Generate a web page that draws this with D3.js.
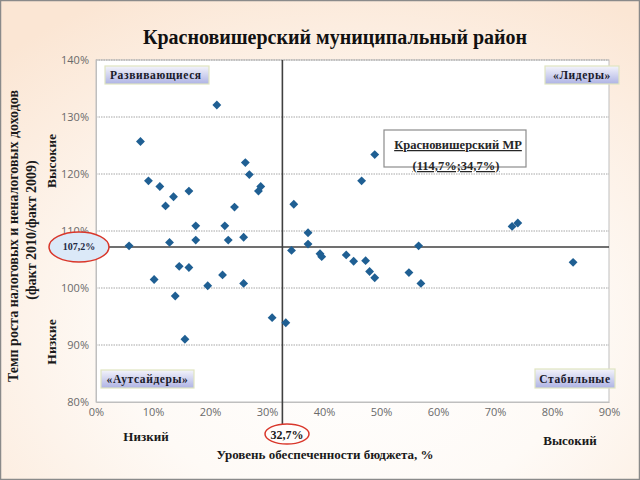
<!DOCTYPE html>
<html>
<head>
<meta charset="utf-8">
<script src="https://cdn.jsdelivr.net/npm/d3@7"></script>
<style>
  html, body { margin: 0; padding: 0; }
  body { width: 640px; height: 480px; overflow: hidden; }
</style>
</head>
<body>
<svg id="chart" width="640" height="480"></svg>
<script>
// ---- data ----
const titleText = "Красновишерский муниципальный район";
const xTicks = [0, 10, 20, 30, 40, 50, 60, 70, 80, 90];
const yTicks = [80, 90, 100, 110, 120, 130, 140];
// Уровень обеспеченности бюджета, %
const provision = [21.2, 7.8, 9.2, 11.2, 12.2, 13.6, 16.3, 26.2, 26.9, 28.9, 28.5, 24.3,
  17.5, 22.6, 34.7, 37.2, 5.8, 12.9, 17.5, 23.2, 25.9, 37.2, 34.3, 39.3, 39.6,
  14.6, 16.3, 10.2, 22.2, 25.9, 19.6, 13.9, 30.9, 33.3, 15.6,
  56.6, 43.9, 45.2, 47.3, 48.0, 48.9, 54.9, 57.0, 83.7, 48.9, 46.6, 73.0, 74.0];
// Темп роста налоговых и неналоговых доходов, %
const growth = [132.1, 125.7, 118.8, 117.8, 114.4, 116.0, 117.0, 122.0, 119.9, 117.8, 117.0, 114.2,
  110.9, 110.9, 114.7, 109.7, 107.4, 108.0, 108.4, 108.4, 108.9, 107.7, 106.6, 106.0, 105.5,
  103.8, 103.6, 101.5, 102.3, 100.8, 100.4, 98.6, 94.8, 93.9, 91.0,
  107.4, 105.8, 104.7, 104.8, 102.9, 101.8, 102.7, 100.8, 104.5, 123.4, 118.8, 110.8, 111.4];
const avgProvision = 32.7;
const avgGrowth = 107.2;
const quadrantLabels = ["Развивающиеся", "«Лидеры»", "«Аутсайдеры»", "Стабильные"];

const svg = d3.select("#chart");
const W = 640, H = 480;
const serif = "'Liberation Serif', 'Times New Roman', serif";
const sans = "'Open Sans', 'Liberation Sans', sans-serif";

// ---- background ----
const defs = svg.append("defs");
const bg = defs.append("radialGradient").attr("id", "bg").attr("cx", "55%").attr("cy", "70%").attr("r", "80%");
bg.append("stop").attr("offset", "0%").attr("stop-color", "#ffffff");
bg.append("stop").attr("offset", "45%").attr("stop-color", "#fefaf6");
bg.append("stop").attr("offset", "100%").attr("stop-color", "#fbe6d4");
const btn = defs.append("linearGradient").attr("id", "btn").attr("x1", 0).attr("y1", 0).attr("x2", 0).attr("y2", 1);
btn.append("stop").attr("offset", "0%").attr("stop-color", "#f4f4fb");
btn.append("stop").attr("offset", "100%").attr("stop-color", "#aeb3e4");

svg.append("rect").attr("x", 0.5).attr("y", 0.5).attr("width", W - 1).attr("height", H - 1)
  .attr("fill", "url(#bg)").attr("stroke", "#8a8a8a").attr("stroke-width", 1.5);

// ---- scales ----
const x = d3.scaleLinear().domain([0, 90]).range([96, 609]);
const y = d3.scaleLinear().domain([80, 140]).range([402, 60]);

// plot area
svg.append("rect").attr("x", x(0)).attr("y", y(140)).attr("width", x(90) - x(0)).attr("height", y(80) - y(140))
  .attr("fill", "#ffffff").attr("stroke", "#bfbfbf").attr("stroke-width", 1);

// grid
svg.append("g").selectAll("line").data(yTicks.filter(d => d > 80)).join("line")
  .attr("x1", x(0)).attr("x2", x(90)).attr("y1", d => y(d)).attr("y2", d => y(d))
  .attr("stroke", "#a6a6a6").attr("stroke-width", 1).attr("stroke-dasharray", "1.5,1");

// axes
const yAxis = d3.axisLeft(y).tickValues(yTicks).tickFormat(d => d + "%").tickSize(0).tickPadding(7);
const gy = svg.append("g").attr("transform", `translate(${x(0)},0)`).call(yAxis);
const xAxis = d3.axisBottom(x).tickValues(xTicks).tickFormat(d => d + "%").tickSize(0).tickPadding(6);
const gx = svg.append("g").attr("transform", `translate(0,${y(80)})`).call(xAxis);
[gx, gy].forEach(g => {
  g.select(".domain").attr("stroke", "#bfbfbf");
  g.selectAll("text").attr("font-family", sans).attr("font-size", 11).attr("fill", "#6a6a6a");
});

// average lines
svg.append("line").attr("x1", x(avgProvision)).attr("x2", x(avgProvision))
  .attr("y1", y(140)).attr("y2", 425).attr("stroke", "#404040").attr("stroke-width", 1.6);
svg.append("line").attr("x1", 105).attr("x2", x(90))
  .attr("y1", y(avgGrowth)).attr("y2", y(avgGrowth)).attr("stroke", "#404040").attr("stroke-width", 1.6);

// points
svg.append("g").selectAll("path").data(provision.map((p, i) => [p, growth[i]])).join("path")
  .attr("d", d3.symbol(d3.symbolDiamond2, 50))
  .attr("transform", d => `translate(${x(d[0])},${y(d[1])})`)
  .attr("fill", "#1f5f93");

// quadrant label boxes
const boxes = [
  { t: quadrantLabels[0], x: 105, y: 66, w: 104, h: 18, anchor: "start", tx: 110 },
  { t: quadrantLabels[1], x: 545, y: 66, w: 74, h: 18, anchor: "middle", tx: 582 },
  { t: quadrantLabels[2], x: 101, y: 370, w: 93, h: 18, anchor: "middle", tx: 147.5 },
  { t: quadrantLabels[3], x: 535, y: 369, w: 80, h: 19, anchor: "middle", tx: 575 }
];
const bx = svg.append("g").selectAll("g").data(boxes).join("g");
bx.append("rect").attr("x", d => d.x).attr("y", d => d.y).attr("width", d => d.w).attr("height", d => d.h)
  .attr("fill", "url(#btn)").attr("stroke", "#e0e4c0").attr("stroke-width", 1.2);
bx.append("text").attr("x", d => d.tx).attr("y", d => d.y + d.h / 2 + 4).attr("text-anchor", d => d.anchor)
  .attr("font-family", serif).attr("font-weight", "bold").attr("font-size", 11.5).attr("letter-spacing", 0.6)
  .attr("fill", "#1a1a2a").text(d => d.t);

// annotation box
svg.append("rect").attr("x", 384).attr("y", 130).attr("width", 142).attr("height", 37)
  .attr("fill", "#ffffff").attr("stroke", "#8c8c8c").attr("stroke-width", 1.2);
svg.append("text").attr("x", 458).attr("y", 149).attr("text-anchor", "middle")
  .attr("font-family", serif).attr("font-weight", "bold").attr("font-size", 12.5).attr("fill", "#262626")
  .attr("text-decoration", "underline").text("Красновишерский МР");
svg.append("text").attr("x", 456).attr("y", 170).attr("text-anchor", "middle")
  .attr("font-family", serif).attr("font-weight", "bold").attr("font-size", 12.5).attr("fill", "#262626")
  .attr("text-decoration", "underline").text("(114,7%;34,7%)");

// ellipses
svg.append("ellipse").attr("cx", 79).attr("cy", y(avgGrowth)).attr("rx", 30).attr("ry", 15)
  .attr("fill", "#dbe9f8").attr("stroke", "#d9372b").attr("stroke-width", 1.5);
svg.append("text").attr("x", 79).attr("y", y(avgGrowth) + 3.5).attr("text-anchor", "middle")
  .attr("font-family", serif).attr("font-weight", "bold").attr("font-size", 10).attr("fill", "#1f2a44")
  .text("107,2%");
svg.append("ellipse").attr("cx", 287).attr("cy", 434).attr("rx", 22).attr("ry", 10)
  .attr("fill", "#fffdfb").attr("stroke", "#d9372b").attr("stroke-width", 1.5);
svg.append("text").attr("x", 287).attr("y", 438.5).attr("text-anchor", "middle")
  .attr("font-family", serif).attr("font-weight", "bold").attr("font-size", 12).attr("fill", "#1a1a1a")
  .text("32,7%");

// titles
svg.append("text").attr("x", 335).attr("y", 44).attr("text-anchor", "middle")
  .attr("font-family", serif).attr("font-weight", "bold").attr("font-size", 20).attr("fill", "#111")
  .text(titleText);
const lbl = (t, xx, yy, anchor) => svg.append("text").attr("x", xx).attr("y", yy).attr("text-anchor", anchor)
  .attr("font-family", serif).attr("font-weight", "bold").attr("font-size", 13).attr("fill", "#1a1a1a").text(t);
lbl("Низкий", 146, 441, "middle");
lbl("Высокий", 570, 445, "middle");
lbl("Уровень обеспеченности бюджета, %", 325, 459, "middle");

const vlbl = (t, cx, cy, fs) => svg.append("text").attr("transform", `translate(${cx},${cy}) rotate(-90)`)
  .attr("text-anchor", "middle").attr("font-family", serif).attr("font-weight", "bold")
  .attr("font-size", fs).attr("fill", "#1a1a1a").text(t);
vlbl("Темп роста налоговых и неналоговых доходов", 18, 236, 14);
vlbl("(факт 2010/факт 2009)", 36, 230, 14);
vlbl("Высокие", 56, 161, 13.5);
vlbl("Низкие", 56, 342, 13.5);
</script>
</body>
</html>
